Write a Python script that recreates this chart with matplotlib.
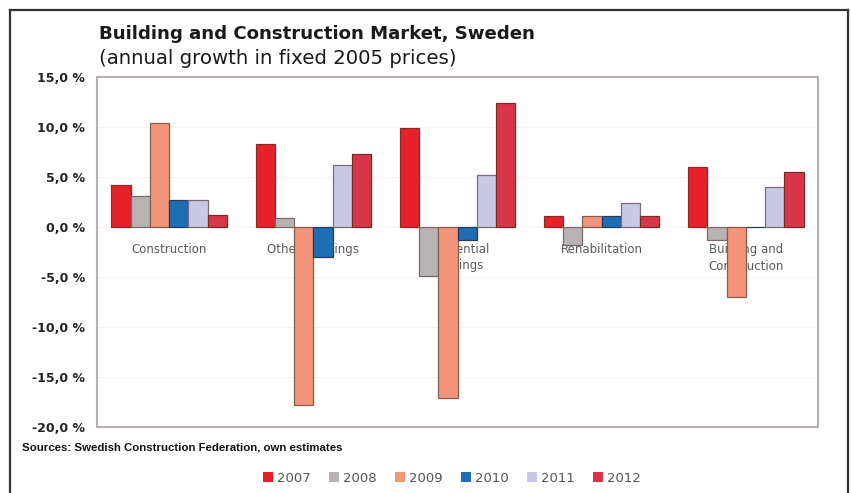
import matplotlib
matplotlib.use("Agg")
import matplotlib.pyplot as plt
from matplotlib.lines import Line2D
from matplotlib.patches import Patch
import numpy as np

plt.rcParams['font.family'] = ['DejaVu Sans']

categories = ["Construction", "Other Buildings", "Residential\nBuildings",
              "Rehabilitation", "Building and\nConstruction"]
years = ["2007", "2008", "2009", "2010", "2011", "2012"]

growth_2007 = [4.2, 8.3, 9.9, 1.15, 6.0]
growth_2008 = [3.1, 0.9, -4.9, -1.8, -1.25]
growth_2009 = [10.4, -17.8, -17.1, 1.15, -6.95]
growth_2010 = [2.7, -3.0, -1.25, 1.15, 0.0]
growth_2011 = [2.7, 6.25, 5.25, 2.4, 4.0]
growth_2012 = [1.25, 7.35, 12.4, 1.15, 5.5]

yticks = [15, 10, 5, 0, -5, -10, -15, -20]

series = [growth_2007, growth_2008, growth_2009, growth_2010, growth_2011, growth_2012]
colors = ["#e62128", "#b8b3b2", "#f3957a", "#1f6db3", "#c9c8e6", "#d9354a"]
edges = ["#8a2a2a", "#7a6a6a", "#8a5a4a", "#2a3a5a", "#7a6a7a", "#7a2a2a"]

fig = plt.figure(figsize=(8.51, 4.93), dpi=100)
ax = fig.add_axes([97 / 851, 66 / 493, 721 / 851, 350 / 493])

n_groups = len(categories)
x = np.arange(n_groups)
group_w = 0.8
bar_w = group_w / len(series)

for i, (vals, c, ec) in enumerate(zip(series, colors, edges)):
    offs = -group_w / 2 + bar_w * (i + 0.5)
    ax.bar(x + offs, vals, width=bar_w, color=c, edgecolor=ec,
           linewidth=0.9, zorder=3)

for xi, cat in zip(x, categories):
    ax.text(xi, -1.6, cat, ha="center", va="top", fontsize=8.5,
            color="#5a5a5a", linespacing=1.35, zorder=2)

ax.set_xlim(-0.5, n_groups - 0.5)
ax.set_ylim(-20, 15)
ax.set_xticks([])
ax.set_yticks(yticks)
ax.set_yticklabels([f"{v:.1f} %".replace(".", ",") for v in yticks],
                   fontsize=9, fontweight="bold", color="#222222")
ax.tick_params(axis="y", length=0, pad=8.5)
ax.yaxis.grid(True, color="#f3f3f3", linewidth=0.8, zorder=0)
ax.set_axisbelow(True)
for sp in ax.spines.values():
    sp.set_color("#b9b0ae")
    sp.set_linewidth(1.5)

# Titles
fig.text(99 / 851, 1 - 34 / 493, "Building and Construction Market, Sweden",
         fontsize=13.1, fontweight="bold", color="#1a1a1a", ha="left", va="center")
fig.text(99 / 851, 1 - 58 / 493, "(annual growth in fixed 2005 prices)",
         fontsize=14.2, color="#1a1a1a", ha="left", va="center")

# Source note
fig.text(22 / 851, 1 - 447 / 493,
         "Sources: Swedish Construction Federation, own estimates",
         fontsize=8.2, fontweight="bold", color="#111111", ha="left", va="center",
         family="Liberation Sans")

# Legend
handles = [Patch(facecolor=c, edgecolor="none") for c in colors]
fig.legend(handles, years, loc="center", bbox_to_anchor=(452 / 851, 1 - 478 / 493),
           ncol=6, frameon=False, fontsize=9.5, handlelength=0.75, handleheight=0.75,
           handletextpad=0.3, columnspacing=1.4, labelcolor="#555555")

# Outer frame
frame_kw = dict(color="#333333", linewidth=1.6, transform=fig.transFigure)
fig.add_artist(Line2D([10 / 851, 10 / 851], [0, 1 - 10 / 493], **frame_kw))
fig.add_artist(Line2D([10 / 851, 848 / 851], [1 - 10 / 493, 1 - 10 / 493], **frame_kw))
fig.add_artist(Line2D([848 / 851, 848 / 851], [0, 1 - 10 / 493], **frame_kw))

fig.savefig("out.png", dpi=100)
